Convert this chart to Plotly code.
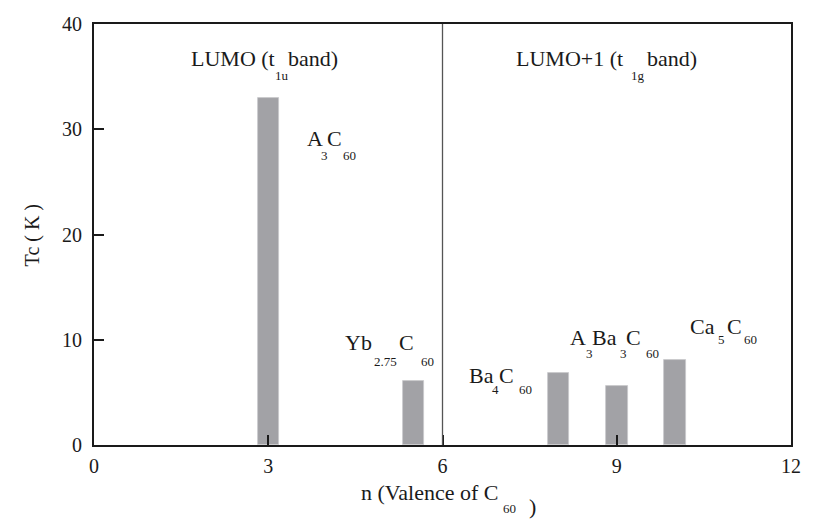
import plotly.graph_objects as go

# Superconducting Tc of alkali / alkaline-earth / rare-earth fullerides
valence = [3, 5.5, 8, 9, 10]
tc_kelvin = [33, 6.1, 6.8, 5.6, 8.1]

x_ticks = [0, 3, 6, 9, 12]
y_ticks = [0, 10, 20, 30, 40]

# Compound labels split into (text, is_subscript, x, y) pieces, in data units
compound_labels = [
    [("A", False, 3.65, 29.1), ("3", True, 3.89, 27.5), ("C", False, 4.00, 29.1), ("60", True, 4.27, 27.5)],
    [("Yb", False, 4.30, 9.7), ("2.75", True, 4.81, 7.9), ("C", False, 5.24, 9.7), ("60", True, 5.61, 7.9)],
    [("Ba", False, 6.44, 6.6), ("4", True, 6.83, 5.3), ("C", False, 6.95, 6.6), ("60", True, 7.30, 5.3)],
    [("A", False, 8.18, 10.2), ("3", True, 8.46, 8.7), ("Ba", False, 8.56, 10.2), ("3", True, 9.04, 8.7),
     ("C", False, 9.14, 10.2), ("60", True, 9.48, 8.7)],
    [("Ca", False, 10.25, 11.3), ("5", True, 10.73, 10.0), ("C", False, 10.88, 11.3), ("60", True, 11.18, 10.0)],
]

band_labels = [
    [("LUMO (t", False, 1.66, 36.7), ("1u", True, 3.10, 35.1), ("band)", False, 3.32, 36.7)],
    [("LUMO+1 (t", False, 7.24, 36.7), ("1g", True, 9.23, 35.1), ("band)", False, 9.50, 36.7)],
]

# x-axis title pieces, in paper units (below the plotting area)
x_title = [("n (Valence of C", False, 0.381, -0.112), ("60", True, 0.585, -0.152), (")", False, 0.622, -0.145)]

SERIF = "Liberation Serif"
INK = "#1a1a1a"
MAIN_SIZE = 22
SUB_SIZE = 13

fig = go.Figure()
fig.add_trace(go.Bar(
    x=valence, y=tc_kelvin, width=0.37,
    marker=dict(color="#a2a2a6", line=dict(color="#c8c8cb", width=0.8)),
    showlegend=False,
))

# Boundary between the t1u and t1g bands (n = 6)
fig.add_shape(type="line", xref="x", yref="y", x0=6, x1=6, y0=0, y1=40,
              line=dict(color="#555555", width=1.3), layer="above")


def piece(text, is_sub, xv, yv, ref):
    return dict(
        text=text, x=xv, y=yv, xref=ref[0], yref=ref[1],
        xanchor="left", yanchor="middle", showarrow=False, borderpad=0,
        font=dict(family=SERIF, size=SUB_SIZE if is_sub else MAIN_SIZE, color=INK),
    )


annotations = []
for group in compound_labels + band_labels:
    for text, is_sub, xv, yv in group:
        annotations.append(piece(text, is_sub, xv, yv, ("x", "y")))
for text, is_sub, xv, yv in x_title:
    annotations.append(piece(text, is_sub, xv, yv, ("paper", "paper")))

annotations.append(dict(
    text="Tc ( K )", xref="paper", yref="paper", x=-0.088, y=0.497,
    xanchor="center", yanchor="middle", textangle=-90, showarrow=False,
    font=dict(family=SERIF, size=20, color=INK),
))

axis_common = dict(
    showgrid=False, zeroline=False, showline=True, mirror=True,
    linecolor=INK, linewidth=2,
    ticks="inside", ticklen=10, tickwidth=2, tickcolor=INK,
    tickfont=dict(family=SERIF, size=20, color=INK),
)

fig.update_layout(
    width=813, height=520,
    margin=dict(l=94, r=18, t=24, b=75),
    paper_bgcolor="white", plot_bgcolor="white",
    font=dict(family=SERIF, color=INK),
    xaxis=dict(range=[0, 12], tickvals=x_ticks, ticklabelstandoff=2, **axis_common),
    yaxis=dict(range=[0, 40], tickvals=y_ticks, ticklabelstandoff=6, **axis_common),
    annotations=annotations,
    bargap=0,
)

fig.write_html("out.html")
